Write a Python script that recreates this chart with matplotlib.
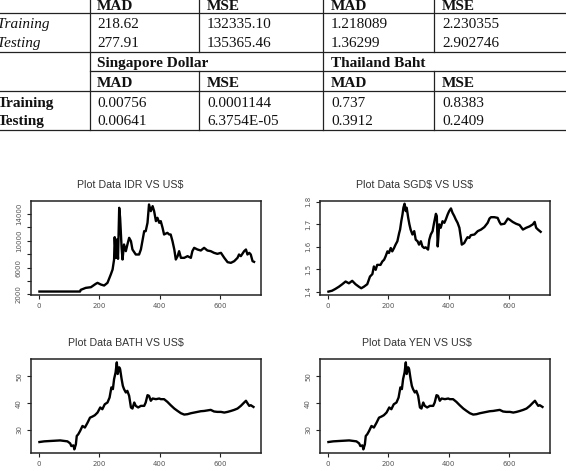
import matplotlib.pyplot as plt
from matplotlib.lines import Line2D

W, H = 566, 471

# ---- table text ----
col_heads = ["MAD", "MSE", "MAD", "MSE"]
row_names = ["Training", "Testing"]
idr_sgd_err = [["218.62", "132335.10", "1.218089", "2.230355"],
               ["277.91", "135365.46", "1.36299", "2.902746"]]
block2_names = ["Singapore Dollar", "Thailand Baht"]
sgd_thb_err = [["0.00756", "0.0001144", "0.737", "0.8383"],
               ["0.00641", "6.3754E-05", "0.3912", "0.2409"]]

# ---- series (index, rate) ----
idr_t = [1, 136, 138, 155, 172, 188, 194, 205, 216, 227, 238, 244, 249, 251, 255,
         258, 262, 266, 269, 274, 277, 282, 288, 293, 299, 305, 310, 321, 332, 338,
         343, 349, 354, 360, 365, 371, 377, 382, 388, 393, 399, 404, 410, 415, 426,
         432, 437, 443, 449, 454, 460, 465, 471, 482, 493, 504, 509, 515, 526, 537,
         548, 559, 570, 581, 592, 604, 615, 626, 637, 648, 659, 664, 670, 681, 687,
         692, 698, 703, 709, 714]
idr_v = [2400, 2400, 2650, 2950, 3050, 3550, 3700, 3450, 3300, 3700, 4950, 5700, 7200, 10550, 7450,
         10200, 7300, 14950, 13450, 8950, 7200, 9450, 8450, 9400, 10450, 9950, 8700, 7950, 7950, 8700,
         9950, 11450, 11450, 12700, 15450, 14450, 15200, 14450, 12950, 13450, 12700, 12950, 11950, 10950, 11200,
         10950, 10950, 9950, 8700, 7200, 7700, 8450, 7450, 7450, 7700, 7450, 8450, 8950, 8700, 8550,
         8950, 8550, 8450, 8200, 8050, 8200, 7450, 6800, 6700, 6950, 7450, 7950, 7700, 8450, 8700,
         7950, 8200, 7950, 6950, 6850]

sgd_t = [1, 13, 24, 36, 47, 58, 69, 80, 91, 102, 110, 119, 130, 139, 147, 152, 158, 163,
         174, 180, 186, 191, 197, 202, 208, 213, 219, 224, 230, 236, 239, 243, 247, 250,
         254, 258, 261, 266, 270, 274, 280, 286, 291, 297, 302, 308, 313, 319, 324, 332,
         336, 341, 347, 352, 358, 361, 364, 369, 374, 380, 386, 391, 397, 402, 408, 413,
         419, 424, 430, 436, 441, 444, 452, 458, 463, 469, 474, 486, 497, 508, 519, 530,
         536, 541, 552, 563, 569, 574, 586, 597, 602, 613, 624, 636, 647, 658, 669, 680,
         686, 691, 697, 706]
sgd_v = [1.400, 1.404, 1.412, 1.422, 1.433, 1.445, 1.437, 1.448, 1.433, 1.422, 1.415, 1.422, 1.433, 1.467,
         1.478, 1.512, 1.497, 1.519, 1.519, 1.534, 1.542, 1.557, 1.579, 1.572, 1.594, 1.579, 1.594,
         1.609, 1.624, 1.661, 1.676, 1.713, 1.743, 1.773, 1.791, 1.758, 1.773, 1.728, 1.699, 1.676,
         1.654, 1.669, 1.631, 1.624, 1.609, 1.624, 1.601, 1.594, 1.597, 1.587, 1.631, 1.654, 1.669,
         1.706, 1.746, 1.736, 1.601, 1.699, 1.684, 1.713, 1.706, 1.721, 1.743, 1.758, 1.770, 1.751,
         1.736, 1.721, 1.706, 1.684, 1.639, 1.609, 1.616, 1.631, 1.642, 1.639, 1.651, 1.654, 1.669,
         1.676, 1.687, 1.706, 1.725, 1.731, 1.731, 1.728, 1.710, 1.699, 1.702, 1.725, 1.721, 1.710,
         1.702, 1.696, 1.676, 1.684, 1.690, 1.699, 1.710, 1.684, 1.676, 1.666]

bath_t = [1, 17, 39, 70, 94, 103, 107, 114, 117, 122, 125, 130, 136, 144, 152, 161, 169,
          177, 185, 194, 203, 210, 218, 227, 234, 240, 245, 249, 254, 258, 261, 266, 269,
          274, 278, 282, 288, 293, 299, 305, 310, 316, 321, 329, 338, 349, 354, 360, 365,
          371, 377, 388, 399, 404, 415, 426, 437, 449, 460, 471, 482, 493, 504, 515, 526,
          537, 548, 570, 581, 592, 604, 615, 626, 637, 648, 659, 670, 681, 687, 692, 698,
          703, 712]
bath_v = [25.5, 25.75, 25.9, 26.1, 25.75, 25.0, 24.0, 24.25, 22.75, 24.6, 27.75, 28.4, 29.6,
          31.5, 30.9, 32.75, 34.6, 35.0, 35.5, 36.5, 38.4, 37.75, 39.6, 40.25, 42.1, 45.9,
          45.25, 49.0, 51.5, 55.25, 50.9, 53.4, 52.75, 49.0, 46.5, 45.25, 44.0, 44.6, 42.75,
          38.4, 38.0, 40.25, 39.0, 38.4, 39.0, 39.0, 40.25, 43.0, 42.75, 40.9, 41.75, 41.5,
          41.75, 41.5, 41.5, 40.5, 39.25, 38.0, 37.1, 36.25, 35.75, 35.9, 36.25, 36.5, 36.75,
          37.0, 37.1, 37.5, 36.9, 36.75, 36.75, 36.5, 36.75, 37.1, 37.5, 38.0, 39.0, 40.25,
          40.9, 40.0, 39.0, 39.25, 38.6]

yen_t = list(bath_t)
yen_v = list(bath_v)

fig = plt.figure(figsize=(W / 100, H / 100), dpi=100)
serif = "Liberation Serif"


def fx(x):
    return x / W


def fy(y):
    return 1 - y / H


def hline(y, x0, x1):
    fig.add_artist(Line2D([fx(x0), fx(x1)], [fy(y), fy(y)], transform=fig.transFigure,
                          color="#222222", lw=0.9))


def vline(x, y0, y1):
    fig.add_artist(Line2D([fx(x), fx(x)], [fy(y0), fy(y1)], transform=fig.transFigure,
                          color="#222222", lw=0.9))


def put(x, y, s, **kw):
    fig.text(fx(x), fy(y), s, family=serif, fontsize=11, va="baseline", ha="left",
             color="#111111", **kw)


# table grid
hline(13, 0, W)
hline(52, 0, W)
hline(71, 90, W)
hline(91, 0, W)
hline(130, 0, W)
vline(90, 0, 130)
vline(323, 0, 130)
for x in (199, 434):
    vline(x, 0, 52)
    vline(x, 71, 130)

col_x = [97, 207, 331, 442]
for x, s in zip(col_x, col_heads):
    put(x, 10, s, weight="bold")
for i, y in enumerate((28, 47)):
    put(-3, y, row_names[i], style="italic")
    for x, s in zip(col_x, idr_sgd_err[i]):
        put(x, y, s)

put(col_x[0], 67, block2_names[0], weight="bold")
put(col_x[2], 67, block2_names[1], weight="bold")
for x, s in zip(col_x, col_heads):
    put(x, 87, s, weight="bold")
for i, y in enumerate((107, 125)):
    put(-2, y, row_names[i], weight="bold")
    for x, s in zip(col_x, sgd_thb_err[i]):
        put(x, y, s)


def panel(left, top, t, v, ylim, yticks, ylabels, title, title_x):
    bottom = top + 94
    ax = fig.add_axes([fx(left), fy(bottom), 230 / W, 94 / H])
    ax.plot(t, v, color="black", lw=1.7)
    ax.set_xlim(-27, 737)
    ax.set_ylim(*ylim)
    ax.set_xticks([0, 200, 400, 600])
    ax.set_yticks(yticks)
    ax.set_yticklabels(ylabels, rotation=90, va="center")
    ax.tick_params(direction="out", length=3, width=0.8, labelsize=5,
                   labelcolor="#555555", color="#222222")
    ax.tick_params(axis="y", pad=3.5)
    ax.tick_params(axis="x", pad=3)
    for sp in ax.spines.values():
        sp.set_linewidth(1.1)
        sp.set_color("#222222")
    fig.text(fx(title_x), fy(top - 13), title, ha="center", va="baseline",
             family="Liberation Sans", fontsize=7.7, color="#333333")
    return ax


panel(31, 201, idr_t, idr_v, (1880, 15970),
      [2000, 4000, 6000, 8000, 10000, 12000, 14000],
      ["2000", "", "6000", "", "10000", "", "14000"],
      r"Plot Data IDR VS US\$", 130)
panel(320, 201, sgd_t, sgd_v, (1.385, 1.803),
      [1.4, 1.5, 1.6, 1.7, 1.8], ["1.4", "1.5", "1.6", "1.7", "1.8"],
      r"Plot Data SGD\$ VS US\$", 414)
panel(31, 359, bath_t, bath_v, (21.4, 56.5),
      [30, 40, 50], ["30", "40", "50"],
      r"Plot Data BATH VS US\$", 126)
panel(320, 359, yen_t, yen_v, (21.4, 56.5),
      [30, 40, 50], ["30", "40", "50"],
      r"Plot Data YEN VS US\$", 417)

fig.savefig("out.png", dpi=100)
